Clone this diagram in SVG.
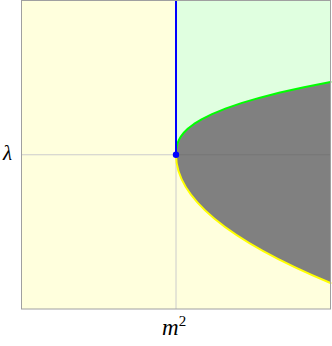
<svg xmlns="http://www.w3.org/2000/svg" width="332" height="346" viewBox="0 0 332 346">
<style>
.lbl{font-family:"Liberation Serif","DejaVu Serif",serif;font-style:italic;fill:#000}
.grid{stroke:#cccccc;stroke-width:1;fill:none}
.curve{fill:none;stroke-width:2;stroke-linejoin:round;stroke-linecap:round}
</style>
<rect x="0" y="0" width="332" height="346" fill="#ffffff"/>
<g id="regions">
<rect id="yellow-region" x="21.5" y="0.5" width="309" height="308.5" fill="#ffffdd"/>
<path id="green-region" d="M176,0.5 L330.5,0.5 L330.5,81.91 L304,87.2 L280,92.56 L260,97.66 L242,102.91 L226,108.36 L212,114.07 L202,119.04 L194,123.92 L188,128.54 L184,132.46 L181,136.28 L179,139.7 L177.5,143.34 L176.7,146.34 L176.3,148.76 L176.1,150.89 L176,154.75 Z" fill="#e0ffe0"/>
</g>
<g id="grid">
<line class="grid" x1="176" y1="0.5" x2="176" y2="309"/>
<line class="grid" x1="21.5" y1="154.75" x2="330.5" y2="154.75"/>
</g>
<path id="gray-region" d="M176,154.75 L176.1,150.89 L176.3,148.76 L176.7,146.34 L177.5,143.34 L179,139.7 L181,136.28 L184,132.46 L188,128.54 L194,123.92 L202,119.04 L212,114.07 L226,108.36 L242,102.91 L260,97.66 L280,92.56 L304,87.2 L330.5,81.91 L330.5,283 Q176,218.9 176,154.75 Z" fill="#808080"/>
<line x1="176" y1="154.75" x2="330.5" y2="154.75" stroke="#767676" stroke-width="1"/>
<g id="connectors">
<path class="curve" stroke="#00ff00" d="M176,154.75 L176.1,150.89 L176.3,148.76 L176.7,146.34 L177.5,143.34 L179,139.7 L181,136.28 L184,132.46 L188,128.54 L194,123.92 L202,119.04 L212,114.07 L226,108.36 L242,102.91 L260,97.66 L280,92.56 L304,87.2 L330.5,81.91"/>
<path class="curve" stroke="#ffff00" d="M176,154.75 Q176,218.9 330.5,283"/>
<line x1="176" y1="0.5" x2="176" y2="154.75" stroke="#0000ff" stroke-width="2"/>
</g>
<rect id="frame" x="21.5" y="0.5" width="309" height="308.5" fill="none" stroke="#a0a0a0" stroke-width="1"/>
<g id="critical-point">
<circle cx="176" cy="154.75" r="3.2" fill="#0000ff"/>
</g>
<g id="labels">
<text class="lbl" x="3" y="160" font-size="21">λ</text>
<text class="lbl" x="162" y="335" font-size="23">m<tspan font-size="15" font-style="normal" dy="-9">2</tspan></text>
</g>
</svg>
